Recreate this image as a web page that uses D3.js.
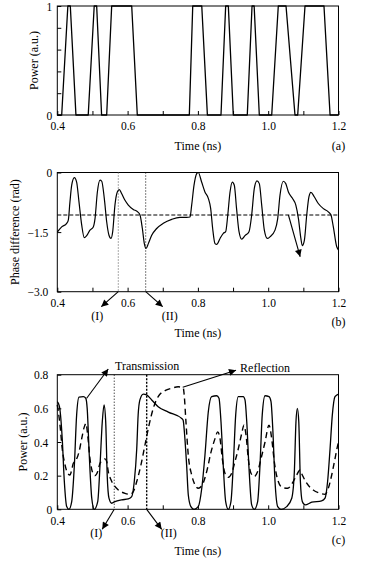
<!DOCTYPE html>
<html><head><meta charset="utf-8">
<script src="https://cdn.jsdelivr.net/npm/d3@7"></script>
<style>
html,body{margin:0;padding:0;background:#fff;}
svg{display:block;font-family:"Liberation Serif","Times New Roman",serif;}
</style></head><body>
<svg id="chart" width="368" height="561"></svg>
<script>
// ---------- DATA ----------
const timeTicks = [0.4,0.5,0.6,0.7,0.8,0.9,1.0,1.1,1.2];
const timeLabels = ["0.4","","0.6","","0.8","","1.0","","1.2"];

const powerTicksA = [0,0.2,0.4,0.6,0.8,1.0];
const powerLabelsA = ["0","","","","","1"];
const phaseTicks = [0,-1.5,-3.0];
const phaseLabels = ["0","\u22121.5","\u22123.0"];
const powerTicksC = [0,0.2,0.4,0.6,0.8];
const powerLabelsC = ["0","0.2","0.4","0.6","0.8"];

// (a) input pulse train
const aTime = [0.4,0.4125,0.430,0.437,0.453,0.488,0.505,0.512,0.526,0.5405,0.5547,0.6117,0.6276,
  0.7756,0.7853,0.811,0.827,0.8657,0.879,0.8866,0.9007,0.9405,0.954,0.960,0.9747,
  1.010,1.0287,1.0507,1.0762,1.0839,1.1047,1.1587,1.176,1.2];
const aPower = [0,0,1,1,0,0,1,1,0,0,1,1,0,0,1,1,0,0,1,1,0,0,1,1,0,0,1,1,0,0,1,1,0,0];

// (b) phase difference
const bTime = [0.400,0.4125,0.4267,0.4313,0.436,0.441,0.4485,0.455,0.4617,0.4694,0.4768,0.4836,0.493,
  0.5024,0.5073,0.514,0.5215,0.5264,0.5337,0.5405,0.547,0.5528,0.5576,0.564,0.5707,0.5764,0.583,
  0.5926,0.602,0.6162,0.6287,0.6353,0.642,0.6476,0.6524,0.659,0.6686,0.6828,0.7016,0.7255,0.749,
  0.768,0.7776,0.7823,0.789,0.7966,0.801,0.8106,0.820,0.8296,0.8364,0.842,0.8487,0.8535,0.863,
  0.8723,0.879,0.885,0.8914,0.898,0.9036,0.910,0.917,0.9246,0.934,0.9454,0.953,0.9605,0.968,
  0.9747,0.9815,0.989,0.9975,1.005,1.0194,1.027,1.0336,1.043,1.05,1.0575,1.069,1.0786,1.086,
  1.093,1.097,1.103,1.1096,1.116,1.1215,1.131,1.1425,1.157,1.171,1.1786,1.1853,1.195,1.2];
const bPhase = [-1.50,-1.37,-1.28,-1.20,-0.74,-0.32,-0.13,-0.24,-0.74,-1.32,-1.64,-1.59,-1.45,
  -1.37,-1.16,-0.49,-0.19,-0.22,-0.65,-1.24,-1.58,-1.66,-1.49,-0.82,-0.49,-0.43,-0.53,
  -0.70,-0.82,-0.93,-0.99,-1.07,-1.41,-1.79,-1.91,-1.79,-1.58,-1.41,-1.28,-1.18,-1.13,
  -1.13,-1.12,-0.82,-0.32,-0.03,0,-0.24,-0.49,-0.65,-0.91,-1.41,-1.79,-1.81,-1.66,
  -1.53,-1.49,-1.07,-0.49,-0.24,-0.32,-0.91,-1.49,-1.68,-1.59,-1.49,-1.07,-0.40,-0.21,
  -0.28,-0.82,-1.45,-1.66,-1.62,-1.45,-1.16,-0.57,-0.22,-0.28,-0.49,-0.65,-0.82,-1.16,
  -1.66,-1.84,-1.70,-1.07,-0.61,-0.50,-0.61,-0.78,-0.91,-0.99,-1.07,-1.37,-1.87,-1.95];
const phaseThreshold = -1.07;

// (c) transmission (solid)
const cTransTime = [0.400,0.403,0.407,0.414,0.420,0.4267,0.433,0.441,0.4485,0.455,0.4617,0.474,0.481,
  0.485,0.491,0.498,0.505,0.515,0.5215,0.528,0.533,0.5377,0.542,0.547,0.5548,0.564,0.583,0.602,
  0.6117,0.619,0.626,0.630,0.635,0.6447,0.6543,0.6686,0.687,0.7158,0.754,0.758,0.763,0.768,
  0.7727,0.780,0.789,0.801,0.811,0.820,0.8296,0.839,0.8535,0.860,0.8657,0.872,0.879,0.8865,
  0.894,0.9007,0.9075,0.915,0.929,0.934,0.939,0.9454,0.953,0.9605,0.970,0.9767,0.983,0.991,
  1.0023,1.008,1.013,1.0194,1.027,1.0364,1.0526,1.067,1.0743,1.079,1.083,1.087,1.0916,1.097,
  1.105,1.124,1.152,1.1617,1.169,1.176,1.1824,1.190,1.2];
const cTrans = [0.64,0.63,0.60,0.42,0.165,0.016,0,0.046,0.26,0.56,0.667,0.67,0.66,
  0.60,0.32,0.066,0,0.046,0.26,0.52,0.62,0.52,0.20,0.066,0.036,0.046,0.056,0.062,
  0.075,0.165,0.36,0.56,0.65,0.685,0.68,0.65,0.61,0.578,0.54,0.53,0.42,0.26,
  0.085,0.016,0,0.016,0.125,0.32,0.58,0.67,0.675,0.66,0.52,0.264,0.046,0,
  0.046,0.264,0.56,0.67,0.67,0.65,0.52,0.244,0.026,0,0.046,0.264,0.56,0.675,
  0.67,0.64,0.48,0.165,0.016,0,0.016,0.066,0.22,0.52,0.60,0.52,0.165,0.046,
  0.026,0.042,0.05,0.066,0.165,0.36,0.56,0.67,0.685];

// (c) reflection (dashed)
const cReflTime = [0.400,0.403,0.4077,0.414,0.422,0.4296,0.436,0.441,0.4456,0.452,0.4617,0.4694,0.4768,
  0.4816,0.4865,0.493,0.4996,0.5073,0.515,0.5215,0.528,0.5357,0.5405,0.545,0.5528,0.5622,0.5736,
  0.5926,0.607,0.6162,0.626,0.638,0.6495,0.661,0.673,0.687,0.7064,0.7255,0.744,0.7585,0.761,
  0.766,0.7727,0.7823,0.7918,0.801,0.8125,0.825,0.8373,0.8487,0.8563,0.863,0.8695,0.877,0.8865,
  0.896,0.9056,0.915,0.9246,0.931,0.937,0.9434,0.951,0.9605,0.970,0.9795,0.991,1.0023,1.01,
  1.0173,1.027,1.040,1.0555,1.0686,1.081,1.0905,1.097,1.1096,1.128,1.1474,1.1617,1.171,1.1807,
  1.190,1.198,1.2];
const cRefl = [0.62,0.58,0.50,0.36,0.264,0.214,0.204,0.234,0.274,0.288,0.34,0.42,0.49,
  0.51,0.44,0.30,0.224,0.20,0.224,0.274,0.288,0.30,0.284,0.224,0.175,0.14,0.115,
  0.095,0.089,0.105,0.165,0.264,0.383,0.50,0.60,0.67,0.705,0.72,0.728,0.72,0.68,
  0.52,0.32,0.204,0.145,0.125,0.145,0.224,0.34,0.42,0.46,0.42,0.30,0.214,0.19,
  0.214,0.284,0.36,0.45,0.50,0.44,0.30,0.214,0.195,0.224,0.30,0.40,0.50,0.42,
  0.284,0.175,0.13,0.125,0.155,0.204,0.234,0.204,0.155,0.115,0.095,0.089,0.125,0.204,
  0.30,0.383,0.40];

// markers in time
const markersB = [0.5735,0.6515];
const markersC = [0.562,0.6543];

// ---------- DRAWING ----------
const svg = d3.select("#chart");
const FONT = "'Liberation Serif','Times New Roman',serif";
svg.append("rect").attr("width",368).attr("height",561).attr("fill","#fff");

const defs = svg.append("defs");
defs.append("marker").attr("id","ah").attr("viewBox","0 0 10 10")
  .attr("refX",10).attr("refY",5).attr("markerWidth",9).attr("markerHeight",7)
  .attr("markerUnits","userSpaceOnUse").attr("orient","auto")
  .append("path").attr("d","M0,0L10,5L0,10z").attr("fill","#000");

const x = d3.scaleLinear().domain([0.4,1.2]).range([57.3,338.5]);

function panel(top,bottom,domain,yTicks,yLabels,yTitle,yTitleX,tag,tagY,timeY,tickLabelOff){
  const y = d3.scaleLinear().domain(domain).range([bottom,top]);
  const g = svg.append("g");
  const xa = d3.axisBottom(x).tickValues(timeTicks).tickSizeInner(-4).tickSizeOuter(0)
    .tickFormat((d,i)=>timeLabels[i]);
  g.append("g").attr("transform",`translate(0,${bottom})`).call(xa)
    .attr("font-family",FONT).attr("font-size",11.5)
    .call(s=>s.select(".domain").remove())
    .call(s=>s.selectAll("text").attr("y",tickLabelOff).attr("dy","0.35em").attr("fill","#000"));
  const ya = d3.axisLeft(y).tickValues(yTicks).tickSizeInner(-4).tickSizeOuter(0)
    .tickFormat((d,i)=>yLabels[i]);
  g.append("g").attr("transform",`translate(${x.range()[0]},0)`).call(ya)
    .attr("font-family",FONT).attr("font-size",11.5)
    .call(s=>s.select(".domain").remove())
    .call(s=>s.selectAll("text").attr("fill","#000").attr("dy","0.35em")
       .attr("x",function(){ return d3.select(this).text().length>1 ? -9 : -5; }));
  g.append("rect").attr("x",x.range()[0]).attr("y",top)
    .attr("width",x.range()[1]-x.range()[0]).attr("height",bottom-top)
    .attr("fill","none").attr("stroke","#000").attr("stroke-width",1);
  svg.append("text").attr("transform",`translate(${yTitleX},${(top+bottom)/2}) rotate(-90)`)
    .attr("text-anchor","middle").attr("dy","0.35em").attr("font-family",FONT).attr("font-size",12)
    .text(yTitle);
  svg.append("text").attr("x",(x.range()[0]+x.range()[1])/2).attr("y",timeY).attr("dy","0.35em")
    .attr("text-anchor","middle").attr("font-family",FONT).attr("font-size",12).text("Time (ns)");
  svg.append("text").attr("x",338.5).attr("y",tagY).attr("dy","0.35em")
    .attr("text-anchor","middle").attr("font-family",FONT).attr("font-size",12).text(tag);
  return y;
}

function arrow(x1,y1,x2,y2){
  svg.append("line").attr("x1",x1).attr("y1",y1).attr("x2",x2).attr("y2",y2)
    .attr("stroke","#000").attr("stroke-width",1.1).attr("marker-end","url(#ah)");
}
function label(tx,ty,t,anchor){
  svg.append("text").attr("x",tx).attr("y",ty).attr("dy","0.35em").attr("text-anchor",anchor||"middle")
    .attr("font-family",FONT).attr("font-size",12).text(t);
}

// ---- (a)
const yA = panel(6,115,[0,1],powerTicksA,powerLabelsA,"Power (a.u.)",34,"(a)",146,146,10.5);
svg.append("path").datum(d3.zip(aTime,aPower))
  .attr("d",d3.line().x(d=>x(d[0])).y(d=>yA(d[1])))
  .attr("fill","none").attr("stroke","#000").attr("stroke-width",1.3).attr("stroke-linejoin","round");

// ---- (b)
const yB = panel(172.5,291.7,[-3,0],phaseTicks,phaseLabels,"Phase difference (rad)",14.5,"(b)",322,333,11);
svg.append("line").attr("x1",x(0.4)).attr("x2",x(1.2)).attr("y1",yB(phaseThreshold)).attr("y2",yB(phaseThreshold))
  .attr("stroke","#000").attr("stroke-width",1).attr("stroke-dasharray","4,2");
markersB.forEach((t,i)=>{
  svg.append("line").attr("x1",x(t)).attr("x2",x(t)).attr("y1",yB(0)).attr("y2",yB(-3))
    .attr("stroke",i===0?"#555":"#000").attr("stroke-width",1).attr("stroke-dasharray","1,2");
});
svg.append("path").datum(d3.zip(bTime,bPhase))
  .attr("d",d3.line().x(d=>x(d[0])).y(d=>yB(d[1])).curve(d3.curveMonotoneX))
  .attr("fill","none").attr("stroke","#000").attr("stroke-width",1.2);
arrow(x(markersB[0]),yB(-3),x(markersB[0])-17,yB(-3)+15);
arrow(x(markersB[1]),yB(-3),x(markersB[1])+17,yB(-3)+15);
label(x(markersB[0])-21,316,"(I)");
label(x(markersB[1])+24,316,"(II)");
arrow(x(1.0575),yB(phaseThreshold),x(1.091),yB(-2.12));

// ---- (c)
const yC = panel(374.7,509.3,[0,0.8],powerTicksC,powerLabelsC,"Power (a.u.)",23,"(c)",540,551,12);
svg.append("line").attr("x1",x(markersC[0])).attr("x2",x(markersC[0])).attr("y1",yC(0.8)).attr("y2",yC(0))
  .attr("stroke","#000").attr("stroke-width",1).attr("stroke-dasharray","1,2");
svg.append("line").attr("x1",x(markersC[1])).attr("x2",x(markersC[1])).attr("y1",yC(0.8)).attr("y2",yC(0))
  .attr("stroke","#000").attr("stroke-width",1.4).attr("stroke-dasharray","2,1.5");
svg.append("path").datum(d3.zip(cReflTime,cRefl))
  .attr("d",d3.line().x(d=>x(d[0])).y(d=>yC(d[1])).curve(d3.curveMonotoneX))
  .attr("fill","none").attr("stroke","#000").attr("stroke-width",1.4).attr("stroke-dasharray","6,4");
svg.append("path").datum(d3.zip(cTransTime,cTrans))
  .attr("d",d3.line().x(d=>x(d[0])).y(d=>yC(d[1])).curve(d3.curveMonotoneX))
  .attr("fill","none").attr("stroke","#000").attr("stroke-width",1.3);
arrow(x(markersC[0]),yC(0),x(markersC[0])-12,yC(0)+20);
arrow(x(markersC[1]),yC(0),x(markersC[1])+15,yC(0)+20);
label(x(markersC[0])-18,533,"(I)");
label(x(markersC[1])+22,533,"(II)");
arrow(x(0.4836),yC(0.66),x(0.545),yC(0.834));
label(x(0.5644),366,"Transmission","start");
arrow(x(0.7568),yC(0.725),x(0.9084),yC(0.826));
label(x(0.92),368,"Reflection","start");
</script>
</body></html>
